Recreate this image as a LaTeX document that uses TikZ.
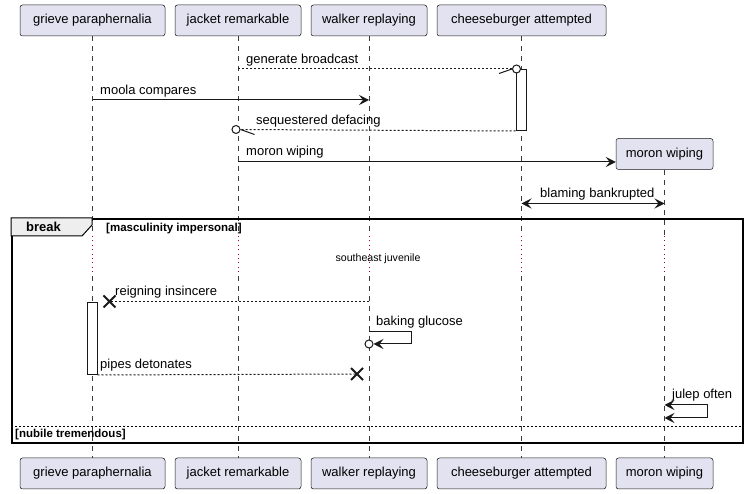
\documentclass[tikz,border=0pt]{standalone}
\usepackage{fontspec}
\setmainfont{Liberation Sans}
\usetikzlibrary{arrows.meta,shapes.misc}
\definecolor{partfill}{HTML}{E2E2F0}
\definecolor{lineclr}{HTML}{181818}
\definecolor{dotred}{HTML}{A80036}
\definecolor{tabfill}{HTML}{EEEEEE}
\begin{document}
\begin{tikzpicture}[x=1pt,y=-1pt,font=\fontsize{13}{15}\selectfont,
  part/.style={draw=lineclr, fill=partfill, line width=0.5pt, rounded corners=2.5pt, minimum height=31pt, inner sep=0pt, text=black},
  lifeline/.style={draw=lineclr!85, line width=0.5pt, dash pattern=on 5pt off 5pt},
  delayline/.style={draw=dotred, line width=0.9pt, dash pattern=on 0.9pt off 3.5pt},
  msg/.style={draw=lineclr, line width=1pt},
  reply/.style={msg, dash pattern=on 2pt off 2pt},
  arr/.style={-{Stealth[length=10pt,width=10pt,inset=4pt]}},
  arrboth/.style={{Stealth[length=10pt,width=10pt,inset=4pt]}-{Stealth[length=10pt,width=10pt,inset=4pt]}},
  lbl/.style={anchor=base west, inner sep=0pt},
  act/.style={draw=lineclr, fill=white, line width=1pt, inner sep=0pt, minimum width=10pt},
  ocirc/.style={circle, draw=lineclr, fill=white, line width=1pt, minimum size=8pt, inner sep=0pt},
  xmk/.style={cross out, draw=lineclr, line width=2pt, minimum size=10pt, inner sep=0pt},
  grp/.style={anchor=base west, inner sep=0pt, font=\fontsize{11.5}{13}\selectfont\bfseries}]
\useasboundingbox (0,0) rectangle (748,494);

% participants
\node[part, minimum width=145pt] (gT) at (92.5,20.5) {grieve paraphernalia};
\node[part, minimum width=126pt] (jT) at (238,20.5) {jacket remarkable};
\node[part, minimum width=116pt] (wT) at (369,20.5) {walker replaying};
\node[part, minimum width=169pt] (cT) at (521.5,20.5) {cheeseburger attempted};
\node[part, minimum width=97pt] (mT) at (664.5,154) {moron wiping};
\node[part, minimum width=145pt] (gB) at (92.5,473.5) {grieve paraphernalia};
\node[part, minimum width=126pt] (jB) at (238,473.5) {jacket remarkable};
\node[part, minimum width=116pt] (wB) at (369,473.5) {walker replaying};
\node[part, minimum width=169pt] (cB) at (521.5,473.5) {cheeseburger attempted};
\node[part, minimum width=97pt] (mB) at (664.5,473.5) {moron wiping};

% lifelines
\coordinate (dA) at (0,236);
\coordinate (dB) at (0,276);
\foreach \p in {g,j,w,c,m} {
  \draw[lifeline] (\p T.south) -- (\p T.south |- dA);
  \draw[delayline] (\p T.south |- dA) -- (\p T.south |- dB);
  \draw[lifeline] (\p T.south |- dB) -- (\p B.north);
}

% message rows
\coordinate (yA) at (0,69);
\coordinate (yB) at (0,100);
\coordinate (yD) at (0,162);
\coordinate (yE) at (0,203.5);
\coordinate (yF) at (0,301.5);
\coordinate (yG) at (0,332);
\coordinate (yI) at (0,405);
\coordinate (yJ) at (0,418);

% generate broadcast
\node[act, anchor=north, minimum height=61pt] (actC) at (521,69) {};
\node[ocirc] (o1) at (516.5,69) {};
\draw[reply] (jT.south |- yA) -- (o1.west);
\draw[msg] (o1.west) -- ++(-13,4.5);
\node[lbl] at (246,64) {generate broadcast};

% moola compares
\draw[msg, arr] (gT.south |- yB) -- (wT.south |- yB);
\node[lbl] at (100,95) {moola compares};

% sequestered defacing
\node[ocirc] (o2) at (236,129.5) {};
\draw[reply] (actC.south west) -- (o2.east);
\draw[msg] (o2.east) -- ++(14,5);
\node[lbl] at (256,125) {sequestered defacing};

% moron wiping
\draw[msg, arr] (jT.south |- yD) -- (mT.west |- yD);
\node[lbl] at (246,156) {moron wiping};

% blaming bankrupted
\draw[msg, arrboth] (cT.south |- yE) -- (mT.south |- yE);
\node[lbl] at (540,198) {blaming bankrupted};

% break frame
\node[draw=black, line width=1.6pt, minimum width=731pt, minimum height=224pt, anchor=north west, inner sep=0pt] (frame) at (11,218) {};
\draw[fill=tabfill, draw=black, line width=1pt] (frame.north west) -- (92,218) -- (92,225) -- (82,236) -- (11,236) -- cycle;
\node[lbl, font=\fontsize{13}{15}\selectfont\bfseries] at (26,232) {break};
\node[grp] at (106,232) {[masculinity impersonal]};

% delay
\node[anchor=base, inner sep=0pt, font=\fontsize{10.6}{12}\selectfont] at (378,262) {southeast juvenile};

% reigning insincere
\node[act, anchor=north, minimum height=72pt] (actG) at (92,302) {};
\node[xmk] (x1) at (109.5,301.5) {};
\draw[reply] (wT.south |- yF) -- (x1.center);
\node[lbl] at (115,296) {reigning insincere};

% baking glucose
\coordinate (bg1) at (411,332);
\coordinate (bg2) at (411,344);
\node[ocirc] (o3) at (369,344) {};
\draw[msg, arr] (wT.south |- yG) -- (bg1) -- (bg2) -- (o3.east);
\node[lbl] at (376,326) {baking glucose};

% pipes detonates
\node[xmk] (x2) at (357,374) {};
\draw[reply] (actG.south east) -- (x2.center);
\node[lbl] at (100,369) {pipes detonates};

% julep often
\coordinate (jo1) at (707,405);
\coordinate (jo2) at (707,418);
\draw[msg, arrboth] (mT.south |- yI) -- (jo1) -- (jo2) -- (mT.south |- yJ);
\node[lbl] at (672,399) {julep often};

% else
\draw[line width=1pt, dash pattern=on 2pt off 2pt] (frame.west |- 0,427) -- (frame.east |- 0,427);
\node[grp] at (15,438) {[nubile tremendous]};
\end{tikzpicture}
\end{document}
